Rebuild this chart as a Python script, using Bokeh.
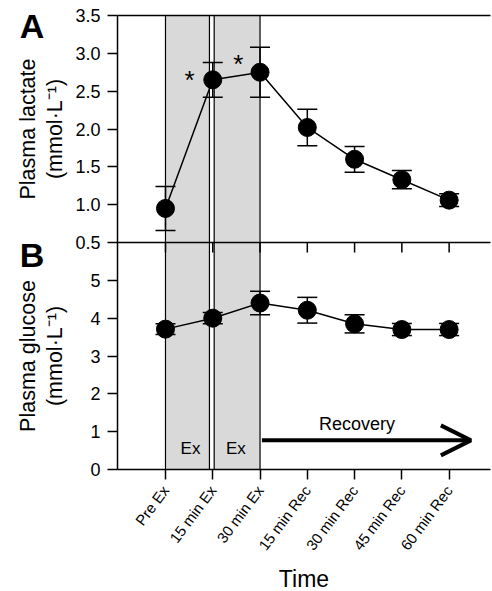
import math
from bokeh.plotting import figure
from bokeh.models import (ColumnDataSource, Range1d, FixedTicker, LinearAxis, Whisker, TeeHead,
                          BoxAnnotation, Arrow, OpenHead, NumeralTickFormatter)
from bokeh.core.properties import value
from bokeh.embed import file_html
from bokeh.resources import INLINE

# ---------------- data ----------------
times = ["Pre Ex", "15 min Ex", "30 min Ex", "15 min Rec", "30 min Rec", "45 min Rec", "60 min Rec"]
lactate = [0.95, 2.65, 2.75, 2.02, 1.60, 1.33, 1.06]
lactate_se = [0.29, 0.23, 0.33, 0.24, 0.17, 0.12, 0.085]
glucose = [3.71, 4.00, 4.40, 4.21, 3.85, 3.70, 3.70]
glucose_se = [0.14, 0.15, 0.31, 0.34, 0.24, 0.16, 0.16]

lactate_ticks = [0.5, 1.0, 1.5, 2.0, 2.5, 3.0, 3.5]
glucose_ticks = [0, 1, 2, 3, 4, 5]

ex_left = [0.0, 1.03]
ex_right = [0.93, 2.0]
ex_labels = ["Ex", "Ex"]
ex_label_x = [0.53, 1.49]
ex_label_y = [0.55, 0.55]

sig_x = [0.51, 1.54]
sig_y = [2.72, 2.92]

recovery_x = [2.04, 6.46]
recovery_y = 0.77

FONT = "Liberation Sans"
xs = list(range(len(times)))

# ---------------- layout (canvas pixels) ----------------
W, H = 492, 590
AX_L, AX_R, AX_T, AX_B = 117, 490, 15, 469        # plotting area
SEAM = (AX_T + AX_B) / 2                           # border between panel A and panel B
X_LO, X_HI = -1.015, 6.875                         # x data at AX_L / AX_R
LAC_LO, LAC_HI = 0.5, 3.5                          # panel A y range
GLU_LO, GLU_HI = 0, 6                              # panel B y range
TICK = 10                                          # tick length in px

ppx = (AX_R - AX_L) / (X_HI - X_LO)
ppg = (AX_B - SEAM) / (GLU_HI - GLU_LO)
ppl = (SEAM - AX_T) / (LAC_HI - LAC_LO)
x_range = Range1d(X_LO - AX_L / ppx, X_HI + (W - AX_R) / ppx)
glu_range = Range1d(GLU_LO - (H - AX_B) / ppg, GLU_HI + SEAM / ppg)
lac_range = Range1d(LAC_LO - (H - SEAM) / ppl, LAC_HI + AX_T / ppl)

p = figure(width=W, height=H, x_range=x_range, y_range=glu_range,
           output_backend="svg", toolbar_location=None, x_axis_location=None, y_axis_location=None)
p.extra_y_ranges = {"lac": lac_range}
p.xgrid.visible = False
p.ygrid.visible = False
p.outline_line_color = None
p.min_border = 0
p.min_border_left = 0
p.min_border_right = 0
p.min_border_top = 0
p.min_border_bottom = 0


def base_axis(ax, tick_out, label_size):
    ax.axis_line_width = 1.5
    ax.axis_line_color = "black"
    ax.major_tick_line_width = 1.5
    ax.major_tick_line_color = "black"
    ax.major_tick_out = tick_out
    ax.major_tick_in = 0
    ax.minor_tick_line_color = None
    ax.major_label_text_font = FONT
    ax.major_label_text_font_size = label_size
    ax.major_label_text_color = "black"
    return ax


# ---- left axes ----
ya = base_axis(LinearAxis(y_range_name="lac", fixed_location=X_LO, bounds=(LAC_LO, LAC_HI),
                          ticker=FixedTicker(ticks=lactate_ticks),
                          formatter=NumeralTickFormatter(format="0.0")), TICK, "18px")
ya.major_label_standoff = 7
p.add_layout(ya, "left")
yb = base_axis(LinearAxis(fixed_location=X_LO, bounds=(GLU_LO, GLU_HI),
                          ticker=FixedTicker(ticks=glucose_ticks)), TICK, "18px")
yb.major_label_standoff = 7
p.add_layout(yb, "left")

# ---- bottom axis ----
xb = base_axis(LinearAxis(fixed_location=GLU_LO, bounds=(X_LO, X_HI), ticker=FixedTicker(ticks=xs)),
               TICK, "15px")
xb.major_label_overrides = {i: t for i, t in enumerate(times)}
xb.major_label_orientation = 0.93
xb.major_label_standoff = 8
p.add_layout(xb, "below")

# ---- shaded exercise periods ----
for l, r in zip(ex_left, ex_right):
    p.add_layout(BoxAnnotation(left=l, right=r, bottom=GLU_LO, top=GLU_HI, fill_color="#d9d9d9",
                               fill_alpha=1.0, line_color="black", line_alpha=1.0, line_width=1.2,
                               level="underlay"))
    p.add_layout(BoxAnnotation(left=l, right=r, bottom=LAC_LO, top=LAC_HI, y_range_name="lac",
                               fill_color="#d9d9d9", fill_alpha=1.0, line_color="black", line_alpha=1.0,
                               line_width=1.2, level="underlay"))

# ---- top border, border between panels and its ticks (pointing down into B) ----
p.segment(x0=[X_LO], y0=[LAC_HI], x1=[X_HI], y1=[LAC_HI], y_range_name="lac",
          line_color="black", line_width=1.5)
p.segment(x0=[X_LO], y0=[GLU_HI], x1=[X_HI], y1=[GLU_HI], line_color="black", line_width=1.5)
p.segment(x0=xs, y0=[GLU_HI] * len(xs), x1=xs, y1=[GLU_HI - TICK / ppg] * len(xs),
          line_color="black", line_width=1.5)

# ---- panel A: lactate ----
srcA = ColumnDataSource(dict(x=xs, y=lactate,
                             upper=[m + s for m, s in zip(lactate, lactate_se)],
                             lower=[m - s for m, s in zip(lactate, lactate_se)]))
p.add_layout(Whisker(source=srcA, base="x", upper="upper", lower="lower", y_range_name="lac",
                     line_color="black", line_width=1.5,
                     upper_head=TeeHead(size=20, line_width=1.5, line_color="black"),
                     lower_head=TeeHead(size=20, line_width=1.5, line_color="black")))
p.line("x", "y", source=srcA, y_range_name="lac", line_color="black", line_width=1.5)
p.scatter("x", "y", source=srcA, y_range_name="lac", size=18, fill_color="black", line_color="black")
p.text(x=sig_x, y=sig_y, text=["*", "*"], y_range_name="lac", y_offset=5, text_font=value(FONT),
       text_font_size="26px", text_align="center", text_baseline="middle", text_color="black")

# ---- panel B: glucose ----
srcB = ColumnDataSource(dict(x=xs, y=glucose,
                             upper=[m + s for m, s in zip(glucose, glucose_se)],
                             lower=[m - s for m, s in zip(glucose, glucose_se)]))
p.add_layout(Whisker(source=srcB, base="x", upper="upper", lower="lower",
                     line_color="black", line_width=1.5,
                     upper_head=TeeHead(size=20, line_width=1.5, line_color="black"),
                     lower_head=TeeHead(size=20, line_width=1.5, line_color="black")))
p.line("x", "y", source=srcB, line_color="black", line_width=1.5)
p.scatter("x", "y", source=srcB, size=18, fill_color="black", line_color="black")

p.text(x=ex_label_x, y=ex_label_y, text=ex_labels, text_font=value(FONT), text_font_size="17px",
       text_align="center", text_baseline="middle", text_color="black")
p.text(x=[sum(recovery_x) / 2 - 0.2], y=[1.19], text=["Recovery"], text_font=value(FONT),
       text_font_size="18px", text_align="center", text_baseline="middle", text_color="black")
p.add_layout(Arrow(end=OpenHead(size=30, line_width=4, line_color="black"),
                   x_start=recovery_x[0], y_start=recovery_y, x_end=recovery_x[1], y_end=recovery_y,
                   line_width=4, line_color="black"))

# ---- panel letters, axis titles ----
p.text(x=[X_LO], y=[LAC_HI], x_offset=-85.5, y_offset=10.5, text=["A"], y_range_name="lac",
       text_font=value(FONT), text_font_size="34px", text_font_style="bold",
       text_align="center", text_baseline="middle", text_color="black")
p.text(x=[X_LO], y=[GLU_HI], x_offset=-85.5, y_offset=12.5, text=["B"],
       text_font=value(FONT), text_font_size="34px", text_font_style="bold",
       text_align="center", text_baseline="middle", text_color="black")

lac_mid = (LAC_LO + LAC_HI) / 2
glu_mid = (GLU_LO + GLU_HI) / 2
unit = "(mmol\u00b7L\u207b\u00b9)"
p.text(x=[X_LO, X_LO], y=[lac_mid, lac_mid], x_offset=[-90, -63], text=["Plasma lactate", unit],
       y_range_name="lac", angle=math.pi / 2, text_font=value(FONT), text_font_size="21.5px",
       text_align="center", text_baseline="alphabetic", text_color="black")
p.text(x=[X_LO, X_LO], y=[glu_mid, glu_mid], x_offset=[-90, -63], text=["Plasma glucose", unit],
       angle=math.pi / 2, text_font=value(FONT), text_font_size="21.5px",
       text_align="center", text_baseline="alphabetic", text_color="black")

p.text(x=[(X_LO + X_HI) / 2], y=[GLU_LO], y_offset=109, text=["Time"], text_font=value(FONT),
       text_font_size="23px", text_align="center", text_baseline="middle", text_color="black")

open("out.html", "w").write(file_html(p, INLINE))
